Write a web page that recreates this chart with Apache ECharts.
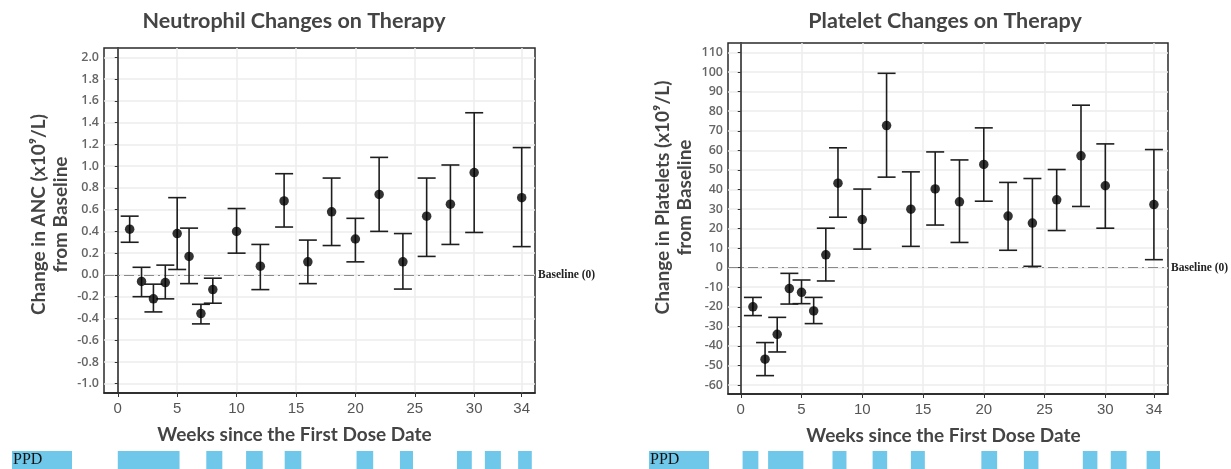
<!DOCTYPE html>
<html>
<head>
<meta charset="utf-8">
<script src="https://cdn.jsdelivr.net/npm/echarts@6/dist/echarts.min.js"></script>
<style>
html,body{margin:0;padding:0;background:#fff;}
#chart{width:1231px;height:469px;}
</style>
</head>
<body>
<div id="chart"></div>
<script>
// ---- data ----
const weeks = [1, 2, 3, 4, 5, 6, 7, 8, 10, 12, 14, 16, 18, 20, 22, 24, 26, 28, 30, 34];

const ancMean = [0.42, -0.06, -0.22, -0.07, 0.38, 0.17, -0.355, -0.135, 0.40, 0.08, 0.68, 0.12, 0.58, 0.33, 0.74, 0.12, 0.54, 0.65, 0.94, 0.71];
const ancLow  = [0.30, -0.20, -0.34, -0.22, 0.05, -0.08, -0.45, -0.26, 0.20, -0.135, 0.44, -0.08, 0.27, 0.12, 0.40, -0.13, 0.17, 0.28, 0.39, 0.26];
const ancHigh = [0.54, 0.07, -0.085, 0.09, 0.71, 0.43, -0.27, -0.03, 0.61, 0.28, 0.93, 0.32, 0.89, 0.52, 1.08, 0.38, 0.89, 1.01, 1.49, 1.17];

const pltMean = [-20, -46.8, -34.1, -10.7, -12.6, -22.1, 6.6, 43.2, 24.6, 72.7, 29.9, 40.3, 33.7, 52.8, 26.4, 22.8, 34.7, 57.2, 41.9, 32.3];
const pltLow  = [-24.5, -55.2, -43.1, -18.6, -18.4, -28.6, -6.8, 25.8, 9.5, 46.3, 10.9, 21.8, 12.9, 34.0, 8.9, 0.7, 19.0, 31.3, 20.2, 4.1];
const pltHigh = [-15.2, -38.3, -25.4, -2.9, -6.3, -15.2, 20.2, 61.3, 40.2, 99.4, 49.0, 59.2, 55.1, 71.5, 43.6, 45.6, 50.2, 83.1, 63.3, 60.4];

// PPD periods (start week, end week)
const ppdStartL = [0, 7.45, 10.8, 14.05, 20.1, 23.75, 28.55, 30.9, 33.7];
const ppdEndL   = [5.2, 8.8, 12.2, 15.45, 21.5, 24.85, 29.8, 32.25, 34.85];
const ppdStartR = [0.15, 2.25, 7.55, 10.85, 14.0, 19.8, 23.3, 28.15, 30.45, 33.4];
const ppdEndR   = [1.45, 5.15, 8.7, 12.05, 15.15, 21.1, 24.5, 29.35, 31.75, 34.5];

// tick labels
const weekTicks = [0, 5, 10, 15, 20, 25, 30, 34];
const ancTicks = [-1.0, -0.8, -0.6, -0.4, -0.2, 0.0, 0.2, 0.4, 0.6, 0.8, 1.0, 1.2, 1.4, 1.6, 1.8, 2.0];
const pltTicks = [-60, -50, -40, -30, -20, -10, 0, 10, 20, 30, 40, 50, 60, 70, 80, 90, 100, 110];

const titles = ['Neutrophil Changes on Therapy', 'Platelet Changes on Therapy'];
const yNames = ['Change in ANC (x10\u2079/L)\nfrom Baseline', 'Change in Platelets (x10\u2079/L)\nfrom Baseline'];
const xName = 'Weeks since the First Dose Date';
const baselineLabel = 'Baseline (0)';
const ppdLabel = 'PPD';

// ---- styling ----
const HEAD_FONT = 'Lato';
const TXT = '#444';
const BLUE = '#6fc8ea';

const chart = echarts.init(document.getElementById('chart'), null, {renderer: 'canvas'});

function errRender(params, api) {
  const x = api.value(0), lo = api.value(1), hi = api.value(2);
  const pLo = api.coord([x, lo]), pHi = api.coord([x, hi]);
  const hw = 9;
  const st = {stroke: '#1e1e1e', lineWidth: 1.6, fill: null};
  return {type: 'group', children: [
    {type: 'line', shape: {x1: pHi[0], y1: pHi[1], x2: pLo[0], y2: pLo[1]}, style: st},
    {type: 'line', shape: {x1: pHi[0] - hw, y1: pHi[1], x2: pHi[0] + hw, y2: pHi[1]}, style: st},
    {type: 'line', shape: {x1: pLo[0] - hw, y1: pLo[1], x2: pLo[0] + hw, y2: pLo[1]}, style: st}
  ]};
}
function ppdRender(params, api) {
  const a = api.coord([api.value(0), 1]);
  const b = api.coord([api.value(1), 0]);
  return {type: 'rect', shape: {x: a[0], y: a[1], width: b[0] - a[0], height: b[1] - a[1]}, style: {fill: BLUE}};
}

const grids = [
  {left: 104, width: 431, top: 48, height: 345, show: true, borderColor: '#2a2a2a', borderWidth: 1.5, backgroundColor: '#fff'},
  {left: 728, width: 440, top: 43, height: 351, show: true, borderColor: '#2a2a2a', borderWidth: 1.5, backgroundColor: '#fff'},
  {left: 104, width: 431, top: 451, height: 18},
  {left: 728, width: 440, top: 451, height: 18}
];

function mainX(gi, min, max, shift) {
  return {
    type: 'value', gridIndex: gi, min: min, max: max,
    name: xName, nameLocation: 'middle', nameGap: 32,
    nameTextStyle: {fontFamily: HEAD_FONT, fontWeight: 'bold', fontSize: 19, color: TXT, padding: [0, shift, 0, 0]},
    axisLine: {show: true, onZero: false, lineStyle: {color: '#222', width: 1.5}},
    axisTick: {show: true, length: 4, lineStyle: {color: '#333'}, customValues: weekTicks},
    axisLabel: {customValues: weekTicks, fontFamily: 'Liberation Sans', fontSize: 15, color: '#555', margin: 8},
    splitLine: {show: true, lineStyle: {color: '#ececec', width: 1.5}}
  };
}
function mainY(gi, min, max, ticks, name, fmt, shift) {
  return {
    type: 'value', gridIndex: gi, min: min, max: max,
    name: name, nameLocation: 'middle', nameGap: 32, nameRotate: 90,
    nameTextStyle: {fontFamily: HEAD_FONT, fontWeight: 'bold', fontSize: 19, color: TXT, lineHeight: 22, padding: [0, 0, 0, shift]},
    axisLine: {show: true, lineStyle: {color: '#222', width: 1.5}},
    axisTick: {show: true, length: 3, lineStyle: {color: '#333'}, customValues: ticks},
    axisLabel: {customValues: ticks, formatter: fmt, fontFamily: 'Open Sans', fontWeight: 600, fontSize: 12.5, color: '#666', margin: 5},
    splitLine: {show: true, lineStyle: {color: '#ececec', width: 1.5}}
  };
}
function baseline() {
  return {
    silent: true, symbol: ['none', 'none'], z: 2,
    lineStyle: {color: '#8a8a8a', width: 1.2, type: [10, 4, 2, 4]},
    label: {show: true, position: 'end', distance: 3, formatter: baselineLabel, fontFamily: 'Liberation Serif', fontWeight: 'bold', fontSize: 11.5, color: '#222'},
    data: [{yAxis: 0}]
  };
}

const option = {
  animation: false,
  backgroundColor: '#fff',
  grid: grids,
  xAxis: [
    mainX(0, -1.16, 35.12, 50),
    mainX(1, -1.05, 35.16, 9),
    {type: 'value', gridIndex: 2, min: -1.16, max: 35.12, show: false},
    {type: 'value', gridIndex: 3, min: -1.05, max: 35.16, show: false}
  ],
  yAxis: [
    mainY(0, -1.085, 2.085, ancTicks, yNames[0], v => v.toFixed(1), 12),
    mainY(1, -64.6, 114.9, pltTicks, yNames[1], v => String(v), 42),
    {type: 'value', gridIndex: 2, min: 0, max: 1, show: false},
    {type: 'value', gridIndex: 3, min: 0, max: 1, show: false}
  ],
  graphic: [
    {type: 'text', x: 294, y: 21, style: {text: titles[0], fontFamily: HEAD_FONT, fontWeight: 'bold', fontSize: 21.5, fill: TXT, textAlign: 'center', textVerticalAlign: 'middle'}},
    {type: 'text', x: 945, y: 21, style: {text: titles[1], fontFamily: HEAD_FONT, fontWeight: 'bold', fontSize: 21.5, fill: TXT, textAlign: 'center', textVerticalAlign: 'middle'}},
    {type: 'rect', shape: {x: 12, y: 451, width: 60, height: 18}, style: {fill: BLUE}},
    {type: 'text', x: 13, y: 452, style: {text: ppdLabel, fontFamily: 'Liberation Serif', fontSize: 16, fill: '#111'}},
    {type: 'rect', shape: {x: 649, y: 451, width: 60, height: 18}, style: {fill: BLUE}},
    {type: 'text', x: 650, y: 452, style: {text: ppdLabel, fontFamily: 'Liberation Serif', fontSize: 16, fill: '#111'}}
  ],
  series: [
    {
      type: 'custom', xAxisIndex: 0, yAxisIndex: 0, renderItem: errRender, clip: false,
      data: weeks.map((w, i) => [w, ancLow[i], ancHigh[i]]), z: 3
    },
    {
      type: 'scatter', xAxisIndex: 0, yAxisIndex: 0, symbolSize: 9.5,
      itemStyle: {color: '#000'}, data: weeks.map((w, i) => [w, ancMean[i]]), z: 4,
      markLine: baseline()
    },
    {
      type: 'custom', xAxisIndex: 1, yAxisIndex: 1, renderItem: errRender, clip: false,
      data: weeks.map((w, i) => [w, pltLow[i], pltHigh[i]]), z: 3
    },
    {
      type: 'scatter', xAxisIndex: 1, yAxisIndex: 1, symbolSize: 9.5,
      itemStyle: {color: '#000'}, data: weeks.map((w, i) => [w, pltMean[i]]), z: 4,
      markLine: baseline()
    },
    {
      type: 'custom', xAxisIndex: 2, yAxisIndex: 2, renderItem: ppdRender, clip: false,
      data: ppdStartL.map((s, i) => [s, ppdEndL[i]])
    },
    {
      type: 'custom', xAxisIndex: 3, yAxisIndex: 3, renderItem: ppdRender, clip: false,
      data: ppdStartR.map((s, i) => [s, ppdEndR[i]])
    }
  ]
};
chart.setOption(option);
</script>
</body>
</html>
